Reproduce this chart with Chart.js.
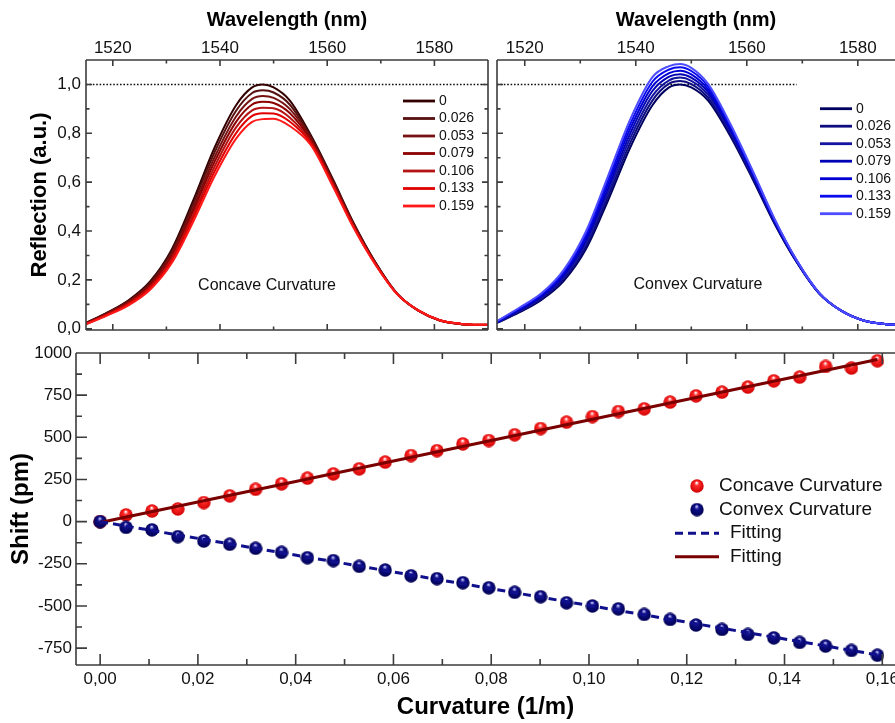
<!DOCTYPE html>
<html>
<head>
<meta charset="utf-8">
<script src="https://cdn.jsdelivr.net/npm/chart.js@4.4.1/dist/chart.umd.min.js"></script>
<style>
  html, body { margin: 0; padding: 0; background: #fff; overflow: hidden; }
  body { width: 895px; height: 723px; position: relative; }
  canvas { position: absolute; }
  #reflConcave { left: 0; top: 0; }
  #reflConvex { left: 492px; top: 0; }
  #shiftChart { left: 0; top: 338px; }
</style>
</head>
<body>
<canvas id="reflConcave" width="492" height="342"></canvas>
<canvas id="reflConvex" width="403" height="342"></canvas>
<canvas id="shiftChart" width="895" height="385"></canvas>
<script>
// spectra
const wavelengths = [1515, 1519, 1523, 1527, 1531, 1535, 1539, 1543, 1546, 1548, 1550, 1553, 1557, 1561, 1565, 1569, 1573, 1577, 1581, 1585, 1590];
const curvLabels = ["0", "0.026", "0.053", "0.079", "0.106", "0.133", "0.159"];

const concave0   = [0.024, 0.067, 0.118, 0.195, 0.325, 0.525, 0.742, 0.915, 0.988, 1.000, 0.988, 0.935, 0.790, 0.615, 0.430, 0.272, 0.145, 0.074, 0.034, 0.019, 0.015];
const concave026 = [0.023, 0.065, 0.115, 0.189, 0.316, 0.511, 0.723, 0.892, 0.965, 0.976, 0.967, 0.918, 0.783, 0.610, 0.427, 0.270, 0.145, 0.074, 0.034, 0.019, 0.015];
const concave053 = [0.022, 0.063, 0.111, 0.184, 0.306, 0.496, 0.703, 0.869, 0.941, 0.953, 0.945, 0.900, 0.777, 0.605, 0.423, 0.269, 0.144, 0.074, 0.034, 0.019, 0.015];
const concave079 = [0.021, 0.061, 0.108, 0.178, 0.297, 0.482, 0.684, 0.847, 0.918, 0.929, 0.924, 0.883, 0.770, 0.600, 0.420, 0.267, 0.144, 0.075, 0.035, 0.020, 0.016];
const concave106 = [0.020, 0.059, 0.104, 0.172, 0.288, 0.467, 0.664, 0.824, 0.894, 0.905, 0.903, 0.865, 0.763, 0.595, 0.417, 0.265, 0.144, 0.075, 0.035, 0.020, 0.016];
const concave133 = [0.019, 0.057, 0.101, 0.167, 0.278, 0.453, 0.645, 0.801, 0.871, 0.882, 0.881, 0.848, 0.757, 0.590, 0.413, 0.264, 0.143, 0.075, 0.035, 0.020, 0.016];
const concave159 = [0.018, 0.055, 0.097, 0.161, 0.269, 0.438, 0.625, 0.778, 0.847, 0.858, 0.860, 0.830, 0.750, 0.585, 0.410, 0.262, 0.143, 0.075, 0.035, 0.020, 0.016];

const convex0   = [0.024, 0.067, 0.118, 0.195, 0.325, 0.525, 0.742, 0.915, 0.988, 1.000, 0.988, 0.935, 0.790, 0.615, 0.430, 0.272, 0.145, 0.074, 0.034, 0.019, 0.015];
const convex026 = [0.025, 0.070, 0.123, 0.203, 0.337, 0.542, 0.761, 0.934, 1.003, 1.014, 1.001, 0.946, 0.798, 0.621, 0.433, 0.273, 0.146, 0.074, 0.034, 0.019, 0.015];
const convex053 = [0.026, 0.073, 0.127, 0.210, 0.349, 0.558, 0.780, 0.953, 1.017, 1.028, 1.015, 0.958, 0.807, 0.627, 0.437, 0.275, 0.146, 0.074, 0.034, 0.019, 0.015];
const convex079 = [0.028, 0.077, 0.132, 0.218, 0.361, 0.575, 0.800, 0.973, 1.032, 1.042, 1.028, 0.969, 0.815, 0.633, 0.440, 0.276, 0.147, 0.074, 0.034, 0.019, 0.015];
const convex106 = [0.029, 0.080, 0.136, 0.225, 0.373, 0.592, 0.819, 0.992, 1.046, 1.056, 1.041, 0.980, 0.823, 0.638, 0.443, 0.277, 0.147, 0.074, 0.034, 0.019, 0.015];
const convex133 = [0.030, 0.083, 0.141, 0.233, 0.385, 0.608, 0.838, 1.011, 1.061, 1.070, 1.055, 0.992, 0.832, 0.644, 0.447, 0.279, 0.148, 0.074, 0.034, 0.019, 0.015];
const convex159 = [0.031, 0.086, 0.145, 0.240, 0.397, 0.625, 0.857, 1.030, 1.075, 1.084, 1.068, 1.003, 0.840, 0.650, 0.450, 0.280, 0.148, 0.074, 0.034, 0.019, 0.015];

// reference level (dotted) and where it stops in each panel
const refLevel = 1.0;
const refEndConcave = 1590;
const refEndConvex = 1569;

// wavelength shift vs curvature
const curvature = [0, 0.0053, 0.0106, 0.0159, 0.0212, 0.0265, 0.0318, 0.0371, 0.0424, 0.0477, 0.053, 0.0583, 0.0636, 0.0689, 0.0742, 0.0795, 0.0848, 0.0901, 0.0954, 0.1007, 0.106, 0.1113, 0.1166, 0.1219, 0.1272, 0.1325, 0.1378, 0.1431, 0.1484, 0.1537, 0.159];
const shiftConcave = [0, 40, 63, 75, 113, 153, 192, 224, 258, 283, 313, 353, 392, 421, 461, 481, 515, 552, 590, 623, 653, 669, 709, 746, 768, 798, 835, 857, 920, 911, 954];
const shiftConvex = [0, -34, -49, -89, -115, -134, -158, -182, -214, -231, -265, -287, -321, -338, -362, -392, -419, -445, -481, -500, -517, -550, -580, -613, -639, -669, -689, -716, -738, -764, -792];
const fitX = [0, 0.159];
const fitConcave = [-5, 962];
const fitConvex = [0, -790];

// tick labels
const wlTicks = [1520, 1540, 1560, 1580];
const reflTicks = [0, 0.2, 0.4, 0.6, 0.8, 1.0];
const curvTicks = [0, 0.02, 0.04, 0.06, 0.08, 0.10, 0.12, 0.14, 0.16];
const shiftTicks = [-750, -500, -250, 0, 250, 500, 750, 1000];

const concaveColors = ["#330000", "#571010", "#761212", "#8c0000", "#b41414", "#e00000", "#ff1a1a"];
const convexColors = ["#000060", "#0d0d80", "#1414a0", "#0000b4", "#0000d2", "#0a0aee", "#4d4dff"];

const FONT = '"Liberation Sans", Arial, Helvetica, sans-serif';
Chart.defaults.font.family = FONT;
Chart.defaults.color = "#111";
Chart.defaults.animation = false;

const comma = (d) => (v) => Number(v).toFixed(d).replace(".", ",");
const plain = (v) => String(v);
const setTicks = (arr) => (scale) => { scale.ticks = arr.map((v) => ({ value: v })); };
// fixed axis box, and no extra room for overhanging first/last labels
const fixBox = (w, h) => (s) => {
  if (w !== null) s.width = w;
  if (h !== null) s.height = h;
  s.paddingLeft = s.paddingRight = s.paddingTop = s.paddingBottom = 0;
};

// box around the plot with inward ticks (majors from the scale, minors halfway)
const framePlugin = {
  id: "frame",
  afterDatasetsDraw(chart, args, o) {
    if (!o.sides) return;
    const { ctx, chartArea: a } = chart;
    const xs = chart.scales.x, ys = chart.scales.y;
    const marks = (scale) => {
      const major = scale.ticks.map((t) => t.value);
      const step = major[1] - major[0];
      const minor = [];
      for (let v = major[0] - step / 2; v <= scale.max; v += step) if (v >= scale.min) minor.push(v);
      return { major, minor };
    };
    ctx.save();
    ctx.strokeStyle = "#3c3c3c";
    ctx.lineWidth = 1.6;
    ctx.beginPath();
    if (o.sides.includes("top")) { ctx.moveTo(a.left, a.top); ctx.lineTo(a.right, a.top); }
    if (o.sides.includes("bottom")) { ctx.moveTo(a.left, a.bottom); ctx.lineTo(a.right, a.bottom); }
    if (o.sides.includes("left")) { ctx.moveTo(a.left, a.top); ctx.lineTo(a.left, a.bottom); }
    if (o.sides.includes("right")) { ctx.moveTo(a.right, a.top); ctx.lineTo(a.right, a.bottom); }
    const mx = marks(xs), my = marks(ys);
    const tickX = (list, len) => list.forEach((v) => {
      const p = xs.getPixelForValue(v);
      if (o.sides.includes("top")) { ctx.moveTo(p, a.top); ctx.lineTo(p, a.top + len); }
      if (o.sides.includes("bottom")) { ctx.moveTo(p, a.bottom); ctx.lineTo(p, a.bottom - len); }
    });
    const tickY = (list, len) => list.forEach((v) => {
      const p = ys.getPixelForValue(v);
      if (o.sides.includes("left")) { ctx.moveTo(a.left, p); ctx.lineTo(a.left + len, p); }
      if (o.sides.includes("right")) { ctx.moveTo(a.right, p); ctx.lineTo(a.right - len, p); }
    });
    tickX(mx.major, o.major); tickX(mx.minor, o.minor);
    tickY(my.major, o.major); tickY(my.minor, o.minor);
    ctx.stroke();
    ctx.restore();
  },
};

// legend drawn at a fixed spot inside the plot
const boxLegend = {
  id: "boxLegend",
  afterDraw(chart, args, o) {
    if (o.x === undefined) return;
    const ctx = chart.ctx;
    const items = chart.data.datasets.filter((d) => d.label).sort((p, q) => p.legendOrder - q.legendOrder);
    ctx.save();
    ctx.font = o.font;
    ctx.textBaseline = "middle";
    items.forEach((d, i) => {
      const y = o.y + i * o.dy;
      let tx;
      if (d.showLine === false) {
        const img = d.pointStyle;
        ctx.drawImage(img, o.markerX - img.width / 2, y - img.height / 2);
        tx = o.markerTextX;
      } else {
        ctx.strokeStyle = d.borderColor;
        ctx.lineWidth = o.lineWidth || d.borderWidth;
        ctx.setLineDash(d.borderDash || []);
        ctx.beginPath();
        ctx.moveTo(o.x, y);
        ctx.lineTo(o.x + o.len, y);
        ctx.stroke();
        ctx.setLineDash([]);
        tx = o.x + o.len + o.gap;
      }
      ctx.fillStyle = "#111";
      ctx.fillText(d.label, tx, y);
    });
    ctx.restore();
  },
};

const notePlugin = {
  id: "note",
  afterDraw(chart, args, o) {
    if (!o.text) return;
    const ctx = chart.ctx;
    ctx.save();
    ctx.font = o.font;
    ctx.fillStyle = "#111";
    ctx.textAlign = "center";
    ctx.textBaseline = "middle";
    ctx.fillText(o.text, o.x, o.y);
    ctx.restore();
  },
};

Chart.register(framePlugin, boxLegend, notePlugin);

function spectrumChart(id, series, colors, refEnd, xMax, withYAxis, legendPos, note) {
  const datasets = series.map((vals, k) => ({
    label: curvLabels[k],
    data: wavelengths.map((w, i) => ({ x: w, y: vals[i] })),
    borderColor: colors[k],
    borderWidth: 2,
    pointRadius: 0,
    cubicInterpolationMode: "monotone",
    order: series.length - k,
    legendOrder: k,
  }));
  datasets.push({
    data: [{ x: wavelengths[0], y: refLevel }, { x: refEnd, y: refLevel }],
    borderColor: "#111",
    borderWidth: 1.6,
    borderDash: [1.6, 1.8],
    pointRadius: 0,
    order: 99,
  });

  return new Chart(document.getElementById(id), {
    type: "line",
    data: { datasets },
    options: {
      responsive: false,
      layout: { autoPadding: false, padding: { left: withYAxis ? 0 : 5, right: withYAxis ? 4 : 0, top: 0, bottom: 12 } },
      plugins: {
        legend: { display: false },
        tooltip: { enabled: false },
        frame: { sides: withYAxis ? ["top", "bottom", "left", "right"] : ["top", "bottom", "left"], major: 6, minor: 3.5 },
        boxLegend: { x: legendPos[0], y: legendPos[1], dy: 17.5, len: 32, gap: 4, lineWidth: 2.8, font: "14px " + FONT },
        note: { text: note[0], x: note[1], y: note[2], font: "16px " + FONT },
      },
      scales: {
        x: {
          type: "linear",
          position: "top",
          min: 1515,
          max: xMax,
          afterBuildTicks: setTicks(wlTicks),
          afterFit: fixBox(null, 60),
          grid: { display: false, drawTicks: false },
          border: { display: false },
          ticks: { autoSkip: false, maxRotation: 0, padding: 1, font: { size: 17 }, color: "#111", callback: plain },
          title: { display: true, text: "Wavelength (nm)", font: { size: 20, weight: "bold" }, color: "#000", padding: { top: 8, bottom: 0 } },
        },
        y: {
          type: "linear",
          display: withYAxis,
          min: -0.005,
          max: 1.1,
          afterBuildTicks: setTicks(reflTicks),
          afterFit: fixBox(withYAxis ? 86 : 0, null),
          grid: { display: false, drawTicks: false },
          border: { display: false },
          ticks: { autoSkip: false, padding: 5, font: { size: 17 }, color: "#111", callback: comma(1) },
          title: { display: true, text: "Reflection (a.u.)", font: { size: 22, weight: "bold" }, color: "#000", padding: { top: 27, bottom: 0 } },
        },
      },
    },
  });
}

spectrumChart("reflConcave",
  [concave0, concave026, concave053, concave079, concave106, concave133, concave159],
  concaveColors, refEndConcave, 1590, true, [403, 101], ["Concave Curvature", 267, 286]);

spectrumChart("reflConvex",
  [convex0, convex026, convex053, convex079, convex106, convex133, convex159],
  convexColors, refEndConvex, 1586.7, false, [328, 108.7], ["Convex Curvature", 206, 285]);

// shaded balls for the measured points
function ball(light, base, dark, size) {
  const c = document.createElement("canvas");
  c.width = c.height = size;
  const g = c.getContext("2d");
  const r = size / 2;
  const grad = g.createRadialGradient(r * 0.95, r * 0.5, r * 0.05, r, r, r);
  grad.addColorStop(0, light);
  grad.addColorStop(0.3, base);
  grad.addColorStop(1, dark);
  g.fillStyle = grad;
  g.beginPath();
  g.arc(r, r, r - 0.3, 0, Math.PI * 2);
  g.fill();
  return c;
}
const redBall = ball("#ffffff", "#ff2a2a", "#d00000", 14);
const blueBall = ball("#c8c8ff", "#10108c", "#000050", 14);

new Chart(document.getElementById("shiftChart"), {
  type: "line",
  data: {
    datasets: [
      {
        label: "Concave Curvature",
        data: curvature.map((c, i) => ({ x: c, y: shiftConcave[i] })),
        showLine: false,
        pointStyle: redBall,
        pointRadius: 7,
        order: 2,
        legendOrder: 0,
      },
      {
        label: "Convex Curvature",
        data: curvature.map((c, i) => ({ x: c, y: shiftConvex[i] })),
        showLine: false,
        pointStyle: blueBall,
        pointRadius: 7,
        order: 1,
        legendOrder: 1,
      },
      {
        label: "Fitting",
        data: fitX.map((c, i) => ({ x: c, y: fitConvex[i] })),
        borderColor: "#10108c",
        borderWidth: 3,
        borderDash: [8, 5],
        pointRadius: 0,
        order: 0,
        legendOrder: 2,
      },
      {
        label: "Fitting",
        data: fitX.map((c, i) => ({ x: c, y: fitConcave[i] })),
        borderColor: "#7a0000",
        borderWidth: 3,
        pointRadius: 0,
        order: 0,
        legendOrder: 3,
      },
    ],
  },
  options: {
    responsive: false,
    layout: { autoPadding: false, padding: { left: 0, right: 0, top: 15, bottom: 0 } },
    plugins: {
      legend: { display: false },
      tooltip: { enabled: false },
      frame: { sides: ["top", "bottom", "left"], major: 11, minor: 6 },
      boxLegend: { x: 675, y: 148, dy: 23.6, len: 44, gap: 11, markerX: 697, markerTextX: 719, lineWidth: 3, font: "19px " + FONT },
    },
    scales: {
      x: {
        type: "linear",
        position: "bottom",
        min: -0.00494,
        max: 0.1626,
        afterBuildTicks: setTicks(curvTicks),
        afterFit: fixBox(null, 58),
        grid: { display: false, drawTicks: false },
        border: { display: false },
        ticks: { autoSkip: false, maxRotation: 0, padding: 4, font: { size: 17 }, color: "#111", callback: comma(2) },
        title: { display: true, text: "Curvature (1/m)", font: { size: 24, weight: "bold" }, color: "#000", padding: { top: 0, bottom: 1 } },
      },
      y: {
        type: "linear",
        min: -850,
        max: 1000,
        afterBuildTicks: setTicks(shiftTicks),
        afterFit: fixBox(76, null),
        grid: { display: false, drawTicks: false },
        border: { display: false },
        ticks: { autoSkip: false, padding: 4, font: { size: 17 }, color: "#111", callback: plain },
        title: { display: true, text: "Shift (pm)", font: { size: 24, weight: "bold" }, color: "#000", padding: { top: 7, bottom: 0 } },
      },
    },
  },
});
</script>
</body>
</html>
